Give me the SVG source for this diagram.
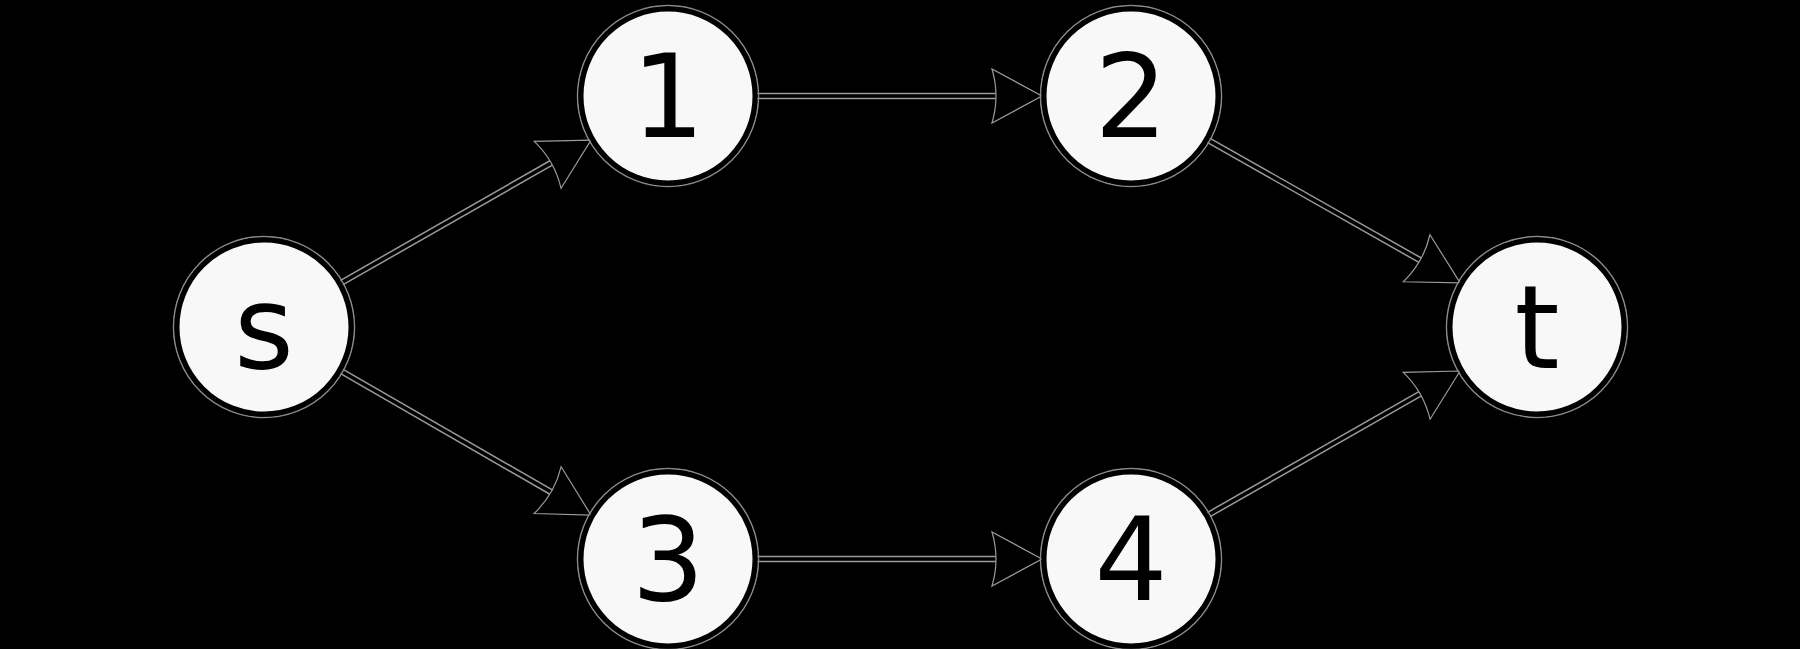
<svg xmlns="http://www.w3.org/2000/svg" width="1800" height="649" viewBox="0 0 1800 649">
<style>
.halo{stroke:#9a9a9a;stroke-width:6.5;fill:none}
.edge{stroke:#000;stroke-width:3.5;fill:none}
.node circle{fill:#f8f8f8;stroke:#000;stroke-width:5}
.node .ring{fill:none;stroke:#8a8a8a;stroke-width:1.5}
.node text{font-family:"DejaVu Sans",sans-serif;font-size:115px;text-anchor:middle;fill:#000}
</style>
<defs>
<marker id="arr" markerUnits="userSpaceOnUse" viewBox="-2 -30 54 60" markerWidth="54" markerHeight="60" refX="5" refY="0" orient="auto">
<path d="M50,0 L0,-27 Q8,0 0,27 Z" fill="#000" stroke="#9a9a9a" stroke-width="1.2"/>
</marker>
</defs>
<rect width="1800" height="649" fill="#000"/>
<g id="connectors">
<g id="halos">
<line class="halo" x1="341" y1="283" x2="552" y2="162.4"/>
<line class="halo" x1="341" y1="371" x2="552" y2="492.6"/>
<line class="halo" x1="757" y1="96" x2="997" y2="96"/>
<line class="halo" x1="757" y1="559" x2="997" y2="559"/>
<line class="halo" x1="1208" y1="140" x2="1421" y2="260.7"/>
<line class="halo" x1="1208" y1="515" x2="1421" y2="393.3"/>
</g>
<line id="e-s-1" class="edge" x1="341" y1="283" x2="552" y2="162.4" marker-end="url(#arr)"/>
<line id="e-s-3" class="edge" x1="341" y1="371" x2="552" y2="492.6" marker-end="url(#arr)"/>
<line id="e-1-2" class="edge" x1="757" y1="96" x2="997" y2="96" marker-end="url(#arr)"/>
<line id="e-3-4" class="edge" x1="757" y1="559" x2="997" y2="559" marker-end="url(#arr)"/>
<line id="e-2-t" class="edge" x1="1208" y1="140" x2="1421" y2="260.7" marker-end="url(#arr)"/>
<line id="e-4-t" class="edge" x1="1208" y1="515" x2="1421" y2="393.3" marker-end="url(#arr)"/>
</g>
<g id="node-s" class="node"><circle class="ring" cx="264" cy="327" r="90.5"/><circle cx="264" cy="327" r="87"/><text x="264" y="368">s</text></g>
<g id="node-1" class="node"><circle class="ring" cx="668" cy="96" r="90.5"/><circle cx="668" cy="96" r="87"/><text x="668" y="137">1</text></g>
<g id="node-2" class="node"><circle class="ring" cx="1131" cy="96" r="90.5"/><circle cx="1131" cy="96" r="87"/><text x="1131" y="137">2</text></g>
<g id="node-t" class="node"><circle class="ring" cx="1537" cy="327" r="90.5"/><circle cx="1537" cy="327" r="87"/><text x="1537" y="368">t</text></g>
<g id="node-3" class="node"><circle class="ring" cx="668" cy="559" r="90.5"/><circle cx="668" cy="559" r="87"/><text x="668" y="600">3</text></g>
<g id="node-4" class="node"><circle class="ring" cx="1131" cy="559" r="90.5"/><circle cx="1131" cy="559" r="87"/><text x="1131" y="600">4</text></g>
</svg>
